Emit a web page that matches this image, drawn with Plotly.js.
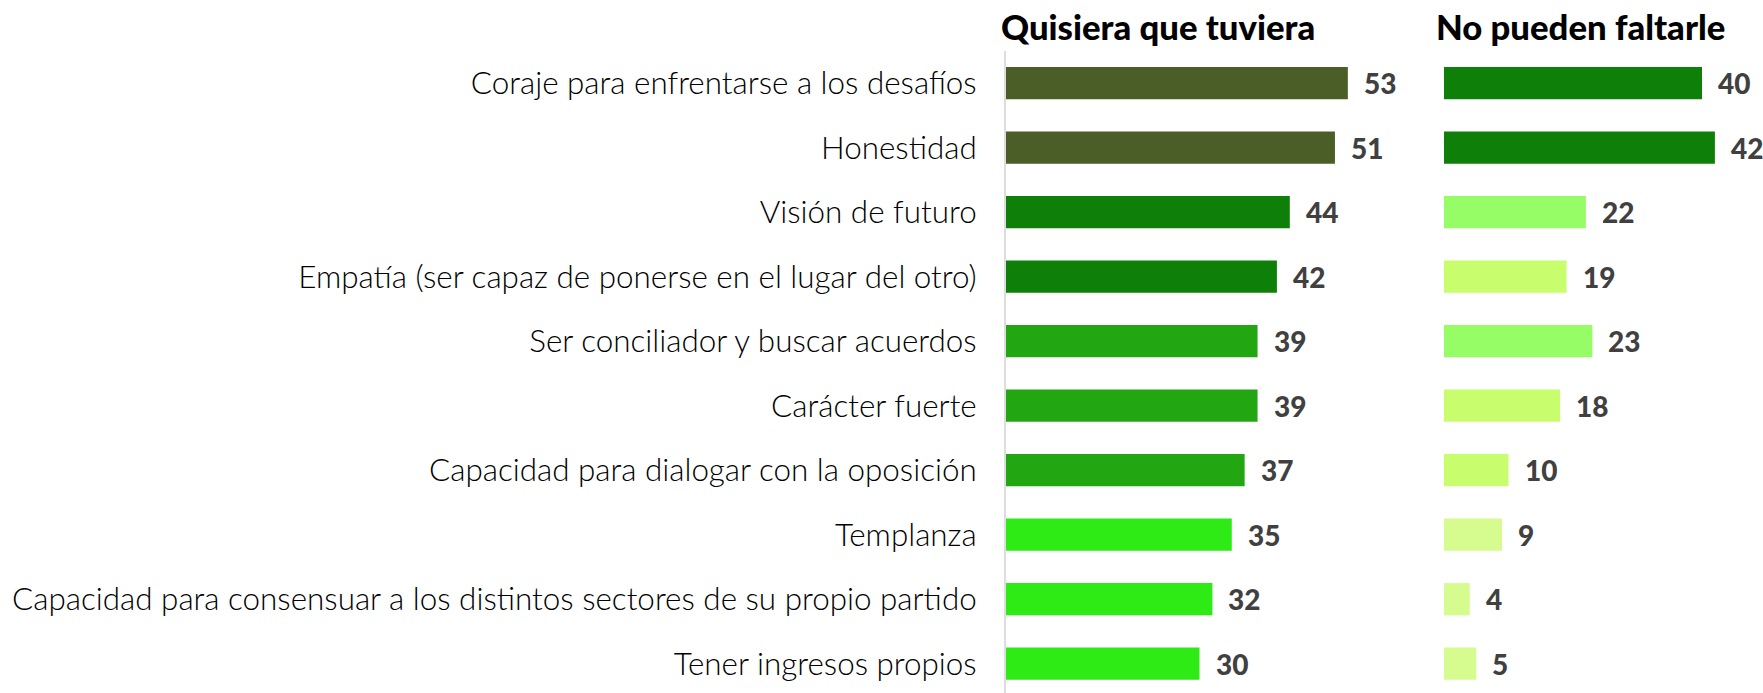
<!DOCTYPE html>
<html>
<head>
<meta charset="utf-8">
<script src="https://cdn.plot.ly/plotly-3.0.1.min.js"></script>
<style>
html,body{margin:0;padding:0;background:#fff;}
#chart{width:1763px;height:693px;}
</style>
</head>
<body>
<div id="chart"></div>
<script>
const categories = [
  "Coraje para enfrentarse a los desafíos",
  "Honestidad",
  "Visión de futuro",
  "Empatía (ser capaz de ponerse en el lugar del otro)",
  "Ser conciliador y buscar acuerdos",
  "Carácter fuerte",
  "Capacidad para dialogar con la oposición",
  "Templanza",
  "Capacidad para consensuar a los distintos sectores de su propio partido",
  "Tener ingresos propios"
];
const quisiera = [53, 51, 44, 42, 39, 39, 37, 35, 32, 30];
const noPueden = [40, 42, 22, 19, 23, 18, 10, 9, 4, 5];
const titleLeft = "Quisiera que tuviera";
const titleRight = "No pueden faltarle";

const colorsLeft = ["#4b5e27","#4b5e27","#0e7f08","#0e7f08","#22a612","#22a612","#22a612","#2eeb16","#2eeb16","#2eeb16"];
const colorsRight = ["#0e7f08","#0e7f08","#96fd66","#c8fd6e","#96fd66","#c8fd6e","#c8fd6e","#d6fc90","#d6fc90","#d6fc90"];

const W = 1763, H = 693;
const pxPerUnit = 6.45;
const leftStart = 1006, rightStart = 1444;
const leftEnd = 1420;
const rangeL = (leftEnd - leftStart) / pxPerUnit;
const rangeR = (W - rightStart) / pxPerUnit;

const traces = [
  {type:'bar', orientation:'h', x: quisiera, y: categories, xaxis:'x', yaxis:'y',
   marker:{color: colorsLeft}, hoverinfo:'none'},
  {type:'bar', orientation:'h', x: noPueden, y: categories, xaxis:'x2', yaxis:'y2',
   marker:{color: colorsRight}, hoverinfo:'none'}
];

const valFont = {family:'Lato', size:28, color:'#404040', weight:900};
const annotations = [];
quisiera.forEach((v,i)=>annotations.push({x:v, y:categories[i], xref:'x', yref:'y', text:String(v),
  showarrow:false, xanchor:'left', yanchor:'middle', xshift:14, font:valFont}));
noPueden.forEach((v,i)=>annotations.push({x:v, y:categories[i], xref:'x2', yref:'y2', text:String(v),
  showarrow:false, xanchor:'left', yanchor:'middle', xshift:14, font:valFont}));
const tFont = {family:'Lato', size:34.7, color:'#000', weight:900};
annotations.push({x:0, xref:'x domain', y:1, yref:'paper', text:titleLeft, showarrow:false,
  xanchor:'left', yanchor:'bottom', xshift:-7, yshift:2, font:tFont});
annotations.push({x:0, xref:'x2 domain', y:1, yref:'paper', text:titleRight, showarrow:false,
  xanchor:'left', yanchor:'bottom', xshift:-10, yshift:2, font:tFont});

const yRange = [9.454, -0.5];
const layout = {
  width: W, height: H,
  margin:{l:0, r:0, t:51, b:0, pad:0},
  paper_bgcolor:'#fff', plot_bgcolor:'#fff',
  showlegend:false,
  bargap:0.5,
  xaxis:{domain:[leftStart/W, leftEnd/W], range:[0, rangeL], visible:false, fixedrange:true},
  xaxis2:{domain:[rightStart/W, 1], range:[0, rangeR], visible:false, fixedrange:true},
  yaxis:{type:'category', range:yRange, anchor:'x', showline:true, linecolor:'#dddddd', linewidth:2,
    showgrid:false, zeroline:false, ticks:'', ticklabelstandoff:21,
    tickfont:{family:'Lato', size:31.4, color:'#000', weight:300}, fixedrange:true},
  yaxis2:{type:'category', range:yRange, anchor:'x2', showline:false, showgrid:false, zeroline:false,
    showticklabels:false, ticks:'', fixedrange:true},
  annotations: annotations
};

Plotly.newPlot('chart', traces, layout, {displayModeBar:false, staticPlot:true});
</script>
</body>
</html>
